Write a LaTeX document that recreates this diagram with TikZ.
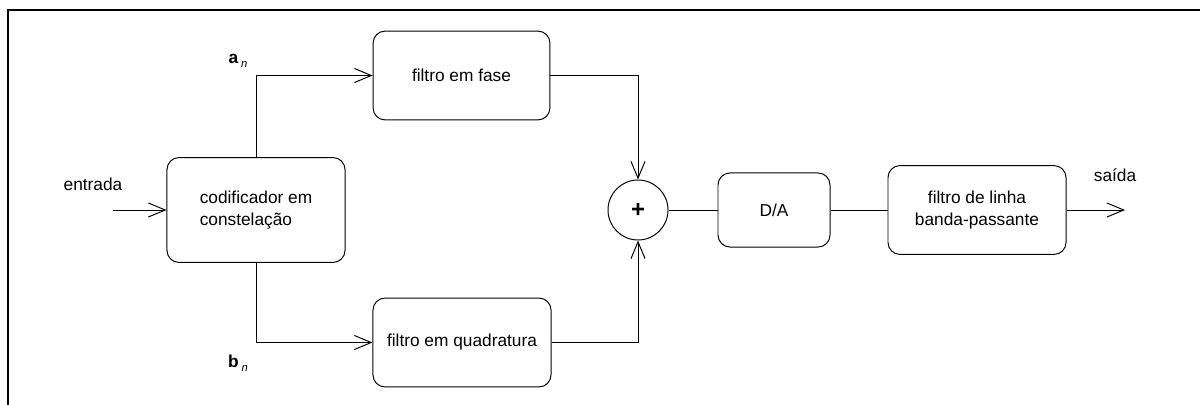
\documentclass[tikz,border=0pt]{standalone}
\usepackage{fontspec}
\setmainfont{Liberation Sans}
\usetikzlibrary{arrows.meta}
\begin{document}
\begin{tikzpicture}
            [x=0.025cm, y=-0.025cm, font=\fontsize{12.3}{15.6}\selectfont,
            block/.style={draw, rounded corners=0.3cm, line width=0.7pt, inner sep=2pt},
            summer/.style={draw, circle, line width=0.7pt, minimum size=1.5cm, inner sep=0pt},
            wire/.style={line width=0.7pt},
            arr/.style={line width=0.7pt, -{Straight Barb[length=12pt, width=10pt, line width=0.7pt]}}]

            \useasboundingbox (0,0) rectangle (1200,405);

            % outer frame (cropped)
            \draw[line width=2pt] (8,405) -- (8,10) -- (1200,10);

            \node[block, minimum width=4.45cm, minimum height=2.62cm, align=left] (coder) at (256,210) {codificador em\\constelação};
            \node[block, minimum width=4.42cm, minimum height=2.22cm] (fase) at (461.5,75.5) {filtro em fase};
            \node[block, minimum width=4.45cm, minimum height=2.22cm] (quad) at (462,342.5) {filtro em quadratura};
            \node[summer] (sum) at (638,210) {\fontsize{17}{17}\selectfont\textbf{+}};
            \node[block, minimum width=2.8cm, minimum height=1.85cm] (da) at (774,210) {D/A};
            \node[block, minimum width=4.45cm, minimum height=2.22cm, align=center] (linha) at (977,210) {filtro de linha\\banda-passante};

            \coordinate (in) at (113,210);
            \coordinate (out) at (1125,210);

            % labels
            \node (entrada) at (93,184) {entrada};
            \node (saida) at (1115,175) {saída};
            \node (an) at (238,61) {\textbf{a}\,\raisebox{-0.4ex}{\footnotesize\itshape n}};
            \node (bn) at (238,363) {\textbf{b}\,\raisebox{-0.4ex}{\footnotesize\itshape n}};

            \draw[arr] (in) -- (coder);
            \draw[arr] (coder.north) |- (fase.west);
            \draw[arr] (coder.south) |- (quad.west);
            \draw[arr] (fase.east) -| (sum.north);
            \draw[arr] (quad.east) -| (sum.south);
            \draw[wire] (sum) -- (da);
            \draw[wire] (da) -- (linha);
            \draw[arr] (linha) -- (out);

        \end{tikzpicture}
\end{document}
